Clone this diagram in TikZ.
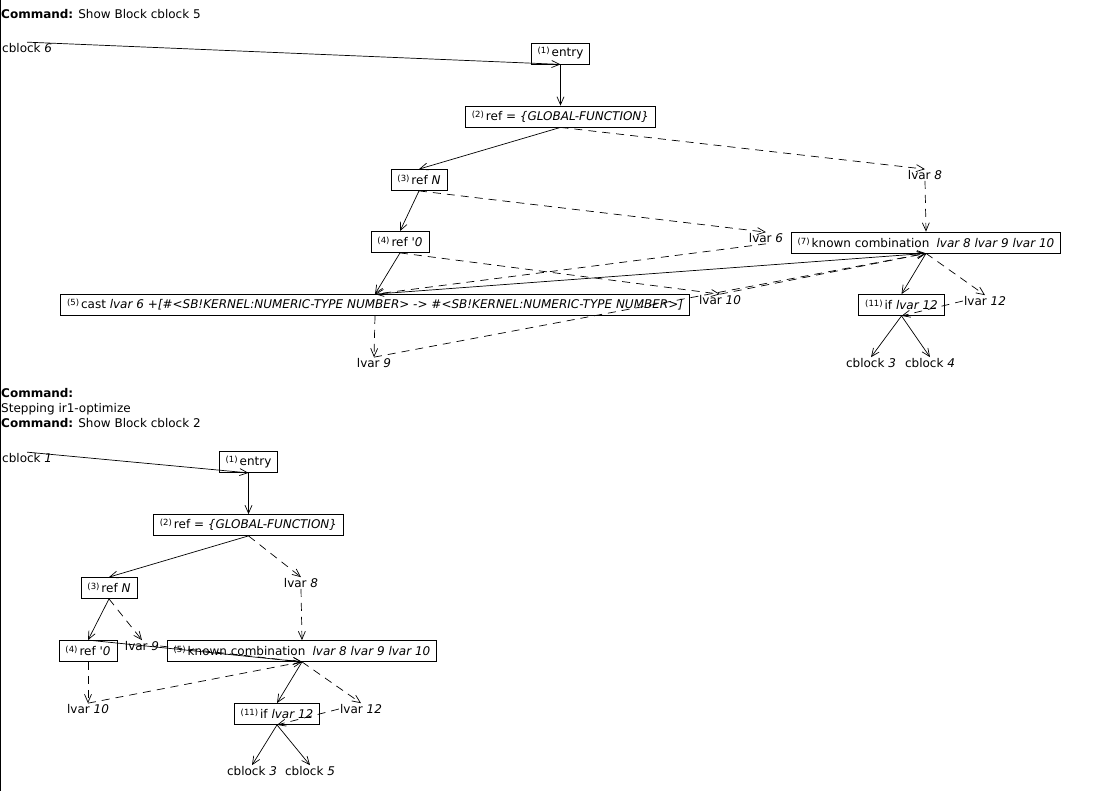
\documentclass[tikz,border=0pt]{standalone}
\usepackage{fontspec}
\setmainfont{DejaVu Sans}
\usetikzlibrary{arrows.meta}

\newcommand{\opnum}[1]{\raisebox{0.45ex}{\fontsize{8.5}{8.5}\selectfont(#1)}\,}

\begin{document}
\begin{tikzpicture}[x=1pt, y=-1pt,
        every node/.style={font=\fontsize{12}{14}\selectfont},
        op/.style={rectangle, draw=black, line width=0.8pt, inner xsep=6.5pt, inner ysep=0pt, minimum height=21pt},
        var/.style={inner sep=1pt},
        cmd/.style={anchor=base west, inner sep=0pt},
        flow/.style={-{Straight Barb[length=8pt,width=7pt]}, line width=0.7pt},
        dataflow/.style={flow, dash pattern=on 8pt off 6pt}
    ]
        \useasboundingbox (0,0) rectangle (1110,791);
        \draw[line width=1pt] (0.5,0) -- (0.5,791);

        % SHOW BLOCK CBLOCK 5
        \node[cmd] (cmd_a) at (1,19) {\textbf{Command:} Show Block cblock 5};
        \node[var, anchor=west] (cb6_a) at (1,48) {cblock \textit{6}};

        \node[op] (entry_a) at (560.5,53.5) {\opnum{1}entry};
        \node[op] (gfun_a) at (560.5,116.5) {\opnum{2}ref = \textit{\{GLOBAL-FUNCTION\}}};
        \node[op] (refn_a) at (419,180) {\opnum{3}ref \textit{N}};
        \node[var] (lv8_a) at (925,175) {lvar \textit{8}};
        \node[op] (ref0_a) at (400,242) {\opnum{4}ref \textit{\textquotesingle 0}};
        \node[var] (lv6_a) at (766,238) {lvar \textit{6}};
        \node[op] (comb_a) at (926,242.5) {\opnum{7}known combination\hspace{0.6em}\textit{lvar 8 lvar 9 lvar 10}};
        \node[op] (cast_a) at (375,305) {\opnum{5}cast \textit{lvar 6 +[\#<SB!KERNEL:NUMERIC-TYPE NUMBER> -> \#<SB!KERNEL:NUMERIC-TYPE NUMBER>]}};
        \node[var] (lv10_a) at (720,300) {lvar \textit{10}};
        \node[op] (if_a) at (901.5,305) {\opnum{11}if \textit{lvar 12}};
        \node[var] (lv12_a) at (985,301) {lvar \textit{12}};
        \node[var] (lv9_a) at (374,363) {lvar \textit{9}};
        \node[var] (cb3_a) at (871,363) {cblock \textit{3}};
        \node[var] (cb4_a) at (930,363) {cblock \textit{4}};

        \draw[flow] (cb6_a.north) -- (entry_a.south);
        \draw[flow] (entry_a.south) -- (gfun_a.north);
        \draw[flow] (gfun_a.south) -- (refn_a.north);
        \draw[dataflow] (gfun_a.south) -- (lv8_a.north);
        \draw[dataflow] (lv8_a.south) -- (comb_a.north);
        \draw[flow] (refn_a.south) -- (ref0_a.north);
        \draw[dataflow] (refn_a.south) -- (lv6_a.north);
        \draw[flow] (ref0_a.south) -- (cast_a.north);
        \draw[dataflow] (ref0_a.south) -- (lv10_a.north);
        \draw[dataflow] (lv6_a.south) -- (cast_a.north);
        \draw[flow] (cast_a.north) -- (comb_a.south);
        \draw[dataflow] (lv10_a.north) -- (comb_a.south);
        \draw[dataflow] (cast_a.south) -- (lv9_a.north);
        \draw[dataflow] (lv9_a.north) -- (comb_a.south);
        \draw[flow] (comb_a.south) -- (if_a.north);
        \draw[dataflow] (comb_a.south) -- (lv12_a.north);
        \draw[dataflow] (lv12_a.west) -- (if_a.south);
        \draw[flow] (if_a.south) -- (cb3_a.north);
        \draw[flow] (if_a.south) -- (cb4_a.north);

        % SHOW BLOCK CBLOCK 2
        \node[cmd] (cmd_b) at (1,397) {\textbf{Command:}};
        \node[cmd] (step_b) at (1,412) {Stepping ir1-optimize};
        \node[cmd] (cmd_c) at (1,427) {\textbf{Command:} Show Block cblock 2};
        \node[var, anchor=west] (cb1_b) at (1,458) {cblock \textit{1}};

        \node[op] (entry_b) at (248.5,462) {\opnum{1}entry};
        \node[op] (gfun_b) at (248.5,525) {\opnum{2}ref = \textit{\{GLOBAL-FUNCTION\}}};
        \node[op] (refn_b) at (109,588) {\opnum{3}ref \textit{N}};
        \node[var] (lv8_b) at (301,583) {lvar \textit{8}};
        \node[op] (ref0_b) at (88,651) {\opnum{4}ref \textit{\textquotesingle 0}};
        \node[var] (lv9_b) at (142,646) {lvar \textit{9}};
        \node[op] (comb_b) at (302,651) {\opnum{5}known combination\hspace{0.6em}\textit{lvar 8 lvar 9 lvar 10}};
        \node[var] (lv10_b) at (88,709) {lvar \textit{10}};
        \node[op] (if_b) at (277,714) {\opnum{11}if \textit{lvar 12}};
        \node[var] (lv12_b) at (361,709) {lvar \textit{12}};
        \node[var] (cb3_b) at (252,771) {cblock \textit{3}};
        \node[var] (cb5_b) at (310,771) {cblock \textit{5}};

        \draw[flow] (cb1_b.north) -- (entry_b.south);
        \draw[flow] (entry_b.south) -- (gfun_b.north);
        \draw[flow] (gfun_b.south) -- (refn_b.north);
        \draw[dataflow] (gfun_b.south) -- (lv8_b.north);
        \draw[dataflow] (lv8_b.south) -- (comb_b.north);
        \draw[flow] (refn_b.south) -- (ref0_b.north);
        \draw[dataflow] (refn_b.south) -- (lv9_b.north);
        \draw[flow] (ref0_b.north) -- (comb_b.south);
        \draw[dataflow] (lv9_b.east) -- (comb_b.south);
        \draw[dataflow] (ref0_b.south) -- (lv10_b.north);
        \draw[dataflow] (lv10_b.north) -- (comb_b.south);
        \draw[flow] (comb_b.south) -- (if_b.north);
        \draw[dataflow] (comb_b.south) -- (lv12_b.north);
        \draw[dataflow] (lv12_b.west) -- (if_b.south);
        \draw[flow] (if_b.south) -- (cb3_b.north);
        \draw[flow] (if_b.south) -- (cb5_b.north);

    \end{tikzpicture}
\end{document}
